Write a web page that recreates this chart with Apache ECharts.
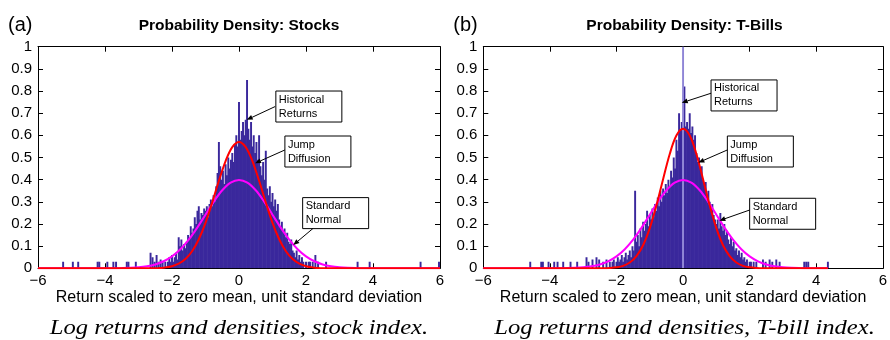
<!DOCTYPE html>
<html><head><meta charset="utf-8">
<script src="https://cdn.jsdelivr.net/npm/echarts@6/dist/echarts.min.js"></script>
<style>html,body{margin:0;padding:0;background:#fff}#chart{width:890px;height:340px}</style>
</head><body><div id="chart"></div>
<script>
// ---- Histogram data (density per bin, bins of width BIN_WIDTH starting at BIN_START) ----
const BIN_START = -2.2;
const BIN_WIDTH = 0.04;

const stockDensity = [
  0.03, 0.00, 0.03, 0.05, 0.03, 0.06, 0.03, 0.05, 0.07, 0.04,
  0.14, 0.10, 0.13, 0.08, 0.11, 0.09, 0.12, 0.15, 0.13, 0.19,
  0.16, 0.18, 0.23, 0.20, 0.26, 0.28, 0.22, 0.25, 0.24, 0.27,
  0.26, 0.28, 0.23, 0.29, 0.31, 0.28, 0.33, 0.30, 0.37, 0.43,
  0.57, 0.46, 0.40, 0.44, 0.38, 0.47, 0.42, 0.50, 0.45, 0.49,
  0.52, 0.48, 0.56, 0.60, 0.55, 0.75, 0.58, 0.62, 0.66, 0.60,
  0.67, 0.85, 0.63, 0.58, 0.66, 0.55, 0.60, 0.52, 0.57, 0.49,
  0.60, 0.46, 0.42, 0.48, 0.40, 0.53, 0.36, 0.33, 0.37, 0.30,
  0.34, 0.28, 0.31, 0.26, 0.29, 0.22, 0.19, 0.21, 0.17, 0.18,
  0.14, 0.16, 0.12, 0.11, 0.13, 0.08, 0.07, 0.05, 0.08, 0.04,
  0.06, 0.03, 0.05, 0.03, 0.00, 0.03, 0.00, 0.03, 0.03, 0.00,
  0.03
];
// isolated tail observations [return, density]
const stockTails = [
  [-5.25, 0.03], [-4.96, 0.03], [-4.80, 0.03], [-4.22, 0.03], [-4.17, 0.03],
  [-3.93, 0.03], [-3.75, 0.03], [-3.67, 0.03], [-3.35, 0.03], [-3.30, 0.03],
  [-3.08, 0.03], [-2.64, 0.07], [-2.58, 0.05], [-2.52, 0.03], [-2.46, 0.06],
  [-2.40, 0.03], [-2.34, 0.04], [-2.28, 0.03],
  [2.28, 0.06], [2.36, 0.03], [2.60, 0.03], [3.54, 0.03], [3.90, 0.03],
  [5.42, 0.03], [5.97, 0.03]
];

const tbillDensity = [
  0.03, 0.00, 0.03, 0.04, 0.00, 0.03, 0.05, 0.03, 0.04, 0.06,
  0.03, 0.05, 0.07, 0.04, 0.06, 0.08, 0.05, 0.10, 0.08, 0.35,
  0.12, 0.15, 0.10, 0.18, 0.14, 0.21, 0.17, 0.20, 0.26, 0.19,
  0.24, 0.22, 0.27, 0.23, 0.29, 0.26, 0.32, 0.28, 0.35, 0.30,
  0.36, 0.33, 0.38, 0.34, 0.40, 0.37, 0.44, 0.41, 0.50, 0.45,
  0.58, 0.53, 0.70, 0.62, 0.66, 0.00, 0.82, 0.64, 0.66, 0.63,
  0.70, 0.61, 0.64, 0.58, 0.60, 0.52, 0.48, 0.50, 0.44, 0.46,
  0.40, 0.37, 0.39, 0.33, 0.35, 0.30, 0.27, 0.29, 0.24, 0.22,
  0.20, 0.22, 0.18, 0.25, 0.19, 0.17, 0.20, 0.15, 0.17, 0.13,
  0.11, 0.14, 0.10, 0.12, 0.08, 0.09, 0.06, 0.08, 0.05, 0.07,
  0.04, 0.05, 0.03, 0.04, 0.00, 0.03, 0.03, 0.00, 0.03, 0.00,
  0.03
];
// the zero-return bin runs far off the top of the scale
const tbillZeroBin = [[0.0, 1.6]];
const tbillTails = [
  [-4.59, 0.03], [-4.26, 0.03], [-4.21, 0.03], [-4.04, 0.03], [-3.87, 0.03],
  [-3.77, 0.03], [-3.60, 0.03], [-3.38, 0.03], [-3.18, 0.03],
  [-2.90, 0.05], [-2.84, 0.03], [-2.72, 0.04], [-2.60, 0.05], [-2.52, 0.04],
  [-2.40, 0.03], [-2.30, 0.04],
  [2.40, 0.04], [2.48, 0.03], [2.60, 0.04], [2.68, 0.03], [2.80, 0.04],
  [2.90, 0.03], [3.64, 0.03], [3.70, 0.03], [3.76, 0.03], [4.35, 0.03]
];

// ---- Fitted densities ----
const normalX = [-6, -4, -3.75, -3.5, -3.25, -3, -2.75, -2.5, -2.25, -2, -1.75, -1.5, -1.25, -1, -0.75, -0.5, -0.25,
  0, 0.25, 0.5, 0.75, 1, 1.25, 1.5, 1.75, 2, 2.25, 2.5, 2.75, 3, 3.25, 3.5, 3.75, 4, 6];
const normalY = [0, 0.0001, 0.0004, 0.0009, 0.002, 0.0044, 0.0091, 0.0175, 0.0317, 0.054, 0.0863, 0.1295, 0.1826, 0.242, 0.3011, 0.3521, 0.3867,
  0.3989, 0.3867, 0.3521, 0.3011, 0.242, 0.1826, 0.1295, 0.0863, 0.054, 0.0317, 0.0175, 0.0091, 0.0044, 0.002, 0.0009, 0.0004, 0.0001, 0];

const jumpX = [-2.4, -2.2, -2.0, -1.8, -1.6, -1.4, -1.2, -1.0, -0.8, -0.6, -0.4, -0.2,
  0, 0.2, 0.4, 0.6, 0.8, 1.0, 1.2, 1.4, 1.6, 1.8, 2.0, 2.2, 2.4];
const stockJumpY = [0.0016, 0.0041, 0.0096, 0.021, 0.042, 0.077, 0.131, 0.205, 0.297, 0.395, 0.484, 0.547,
  0.570, 0.547, 0.484, 0.395, 0.297, 0.205, 0.131, 0.077, 0.042, 0.021, 0.0096, 0.0041, 0.0016];
const tbillJumpY = [0.0005, 0.0015, 0.0043, 0.011, 0.026, 0.055, 0.104, 0.181, 0.283, 0.402, 0.516, 0.599,
  0.630, 0.599, 0.516, 0.402, 0.283, 0.181, 0.104, 0.055, 0.026, 0.011, 0.0043, 0.0015, 0.0005];
const stockCurveRange = [-6, 6];
const tbillCurveRange = [-6, 4.35];

const panelLetters = ['(a)', '(b)'];
const panelTitles = ['Probability Density: Stocks', 'Probability Density: T-Bills'];
const xAxisTitle = 'Return scaled to zero mean, unit standard deviation';
const captions = ['Log returns and densities, stock index.', 'Log returns and densities, T-bill index.'];

// callouts: text, box top-left, arrow tail and head, all in data coordinates
const callouts = [
  { grid: 0, lines: ['Historical', 'Returns'], box: [1.10, 0.80], tail: [1.08, 0.73], head: [0.23, 0.67] },
  { grid: 0, lines: ['Jump', 'Diffusion'], box: [1.37, 0.597], tail: [1.37, 0.534], head: [0.48, 0.474] },
  { grid: 0, lines: ['Standard', 'Normal'], box: [1.90, 0.319], tail: [2.21, 0.18], head: [1.62, 0.105] },
  { grid: 1, lines: ['Historical', 'Returns'], box: [0.84, 0.85], tail: [0.84, 0.79], head: [-0.04, 0.747] },
  { grid: 1, lines: ['Jump', 'Diffusion'], box: [1.33, 0.597], tail: [1.33, 0.534], head: [0.46, 0.477] },
  { grid: 1, lines: ['Standard', 'Normal'], box: [2.0, 0.316], tail: [2.0, 0.263], head: [1.09, 0.215] }
];

// ---- helpers ----
function binned(values) {
  return values.map((v, i) => [BIN_START + i * BIN_WIDTH, v]);
}
function curve(xs, ys, range) {
  const pts = [];
  xs.forEach((x, i) => {
    if (x >= range[0] - 1e-9 && x <= range[1] + 1e-9) pts.push([x, ys[i]]);
  });
  if (pts[pts.length - 1][0] < range[1]) pts.push([range[1], 0]);
  return pts;
}
function renderBar(params, api) {
  const x = api.value(0), h = api.value(1);
  if (!h) return null;
  const a = api.coord([x - BIN_WIDTH / 2, h]);
  const b = api.coord([x + BIN_WIDTH / 2, 0]);
  // slight overlap so neighbouring bins read as one solid mass
  return {
    type: 'rect',
    shape: { x: a[0] - 0.3, y: a[1], width: Math.max(b[0] - a[0] + 0.6, 1.2), height: b[1] - a[1] },
    style: { fill: api.visual('color') }
  };
}

const FONT = 'Liberation Sans, Arial, Helvetica, sans-serif';
const BAR_COLOR = '#3a289c';
const grids = [
  { left: 38, top: 46.7, width: 402, height: 221.6 },
  { left: 483.3, top: 46.7, width: 402.4, height: 221.6 }
];

const xAxes = [], yAxes = [];
grids.forEach((g, i) => {
  const tick = { show: true, inside: true, length: 5, lineStyle: { color: '#000', width: 1 } };
  const line = { show: true, onZero: false, lineStyle: { color: '#000', width: 1 } };
  xAxes.push({
    gridIndex: i, type: 'value', position: 'bottom', min: -6, max: 6, interval: 2,
    axisLine: line, axisTick: tick, splitLine: { show: false },
    axisLabel: { fontFamily: FONT, fontSize: 15, color: '#000', margin: 5,
      formatter: v => String(v).replace('-', '\u2212') },
    name: xAxisTitle, nameLocation: 'middle', nameGap: 21, nameMoveOverlap: false,
    nameTextStyle: { fontFamily: FONT, fontSize: 16, color: '#000' }
  });
  xAxes.push({
    gridIndex: i, type: 'value', position: 'top', min: -6, max: 6, interval: 2,
    axisLine: line, axisTick: tick, splitLine: { show: false }, axisLabel: { show: false }
  });
  yAxes.push({
    gridIndex: i, type: 'value', position: 'left', min: 0, max: 1, interval: 0.1,
    axisLine: line, axisTick: tick, splitLine: { show: false },
    axisLabel: { fontFamily: FONT, fontSize: 15, color: '#000', margin: 6 }
  });
  yAxes.push({
    gridIndex: i, type: 'value', position: 'right', min: 0, max: 1, interval: 0.1,
    axisLine: line, axisTick: tick, splitLine: { show: false }, axisLabel: { show: false }
  });
});

function barSeries(axisIdx, data, color) {
  return {
    type: 'custom', xAxisIndex: axisIdx * 2, yAxisIndex: axisIdx * 2, clip: true,
    renderItem: renderBar, itemStyle: { color: color }, data: data, silent: true, z: 2
  };
}
function lineSeries(axisIdx, data, color, z) {
  return {
    type: 'line', xAxisIndex: axisIdx * 2, yAxisIndex: axisIdx * 2, data: data,
    showSymbol: false, smooth: 0.35, lineStyle: { color: color, width: 2 }, silent: true, z: z
  };
}

const series = [
  barSeries(0, binned(stockDensity), BAR_COLOR),
  barSeries(0, stockTails, BAR_COLOR),
  lineSeries(0, curve(normalX, normalY, stockCurveRange), '#ff00ff', 3),
  lineSeries(0, [[stockCurveRange[0], 0]].concat(curve(jumpX, stockJumpY, stockCurveRange)), '#ff0000', 4),
  barSeries(1, binned(tbillDensity), BAR_COLOR),
  barSeries(1, tbillTails, BAR_COLOR),
  barSeries(1, tbillZeroBin, '#8f86d6'),
  lineSeries(1, curve(normalX, normalY, tbillCurveRange), '#ff00ff', 3),
  lineSeries(1, [[tbillCurveRange[0], 0]].concat(curve(jumpX, tbillJumpY, tbillCurveRange)), '#ff0000', 4)
];

const chart = echarts.init(document.getElementById('chart'), null, { renderer: 'canvas' });
chart.setOption({
  animation: false,
  backgroundColor: '#fff',
  grid: grids,
  xAxis: xAxes,
  yAxis: yAxes,
  series: series
});

// titles, panel letters, captions and callouts placed from the axes' own scales
const graphics = [];
grids.forEach((g, i) => {
  const cx = g.left + g.width / 2;
  graphics.push({ type: 'text', x: cx, y: 26, style: { text: panelTitles[i], fontFamily: FONT, fontWeight: 'bold',
    fontSize: 15.5, fill: '#000', textAlign: 'center', textVerticalAlign: 'middle' } });
  graphics.push({ type: 'text', x: g.left - 30, y: 25, style: { text: panelLetters[i], fontFamily: FONT,
    fontSize: 20, fill: '#000', textAlign: 'left', textVerticalAlign: 'middle' } });
  // the caption face is set wide, so stretch the serif italic horizontally
  graphics.push({ type: 'text', x: cx, y: 329, scaleX: 1.2, style: { text: captions[i], fontFamily: 'Liberation Serif, Times New Roman, serif',
    fontStyle: 'italic', fontSize: 20.5, fill: '#000', textAlign: 'center', textVerticalAlign: 'middle' } });
});
callouts.forEach(c => {
  const finder = { xAxisIndex: c.grid * 2, yAxisIndex: c.grid * 2 };
  const box = chart.convertToPixel(finder, c.box);
  const t = chart.convertToPixel(finder, c.tail);
  const h = chart.convertToPixel(finder, c.head);
  graphics.push({ type: 'rect', shape: { x: box[0], y: box[1], width: 66, height: 31 },
    style: { fill: '#fff', stroke: '#000', lineWidth: 1 }, z: 10 });
  c.lines.forEach((s, k) => {
    graphics.push({ type: 'text', x: box[0] + 3, y: box[1] + 8.5 + k * 14, z: 11,
      style: { text: s, fontFamily: FONT, fontSize: 11, fill: '#000', textVerticalAlign: 'middle' } });
  });
  const dx = h[0] - t[0], dy = h[1] - t[1], L = Math.hypot(dx, dy);
  const ux = dx / L, uy = dy / L, hl = 6, hw = 2.5;
  graphics.push({ type: 'line', shape: { x1: t[0], y1: t[1], x2: h[0] - ux * hl, y2: h[1] - uy * hl },
    style: { stroke: '#000', lineWidth: 1 }, z: 10 });
  graphics.push({ type: 'polygon', shape: { points: [
    [h[0], h[1]],
    [h[0] - ux * hl - uy * hw, h[1] - uy * hl + ux * hw],
    [h[0] - ux * hl + uy * hw, h[1] - uy * hl - ux * hw]
  ] }, style: { fill: '#000' }, z: 10 });
});
chart.setOption({ graphic: graphics });
</script></body></html>
